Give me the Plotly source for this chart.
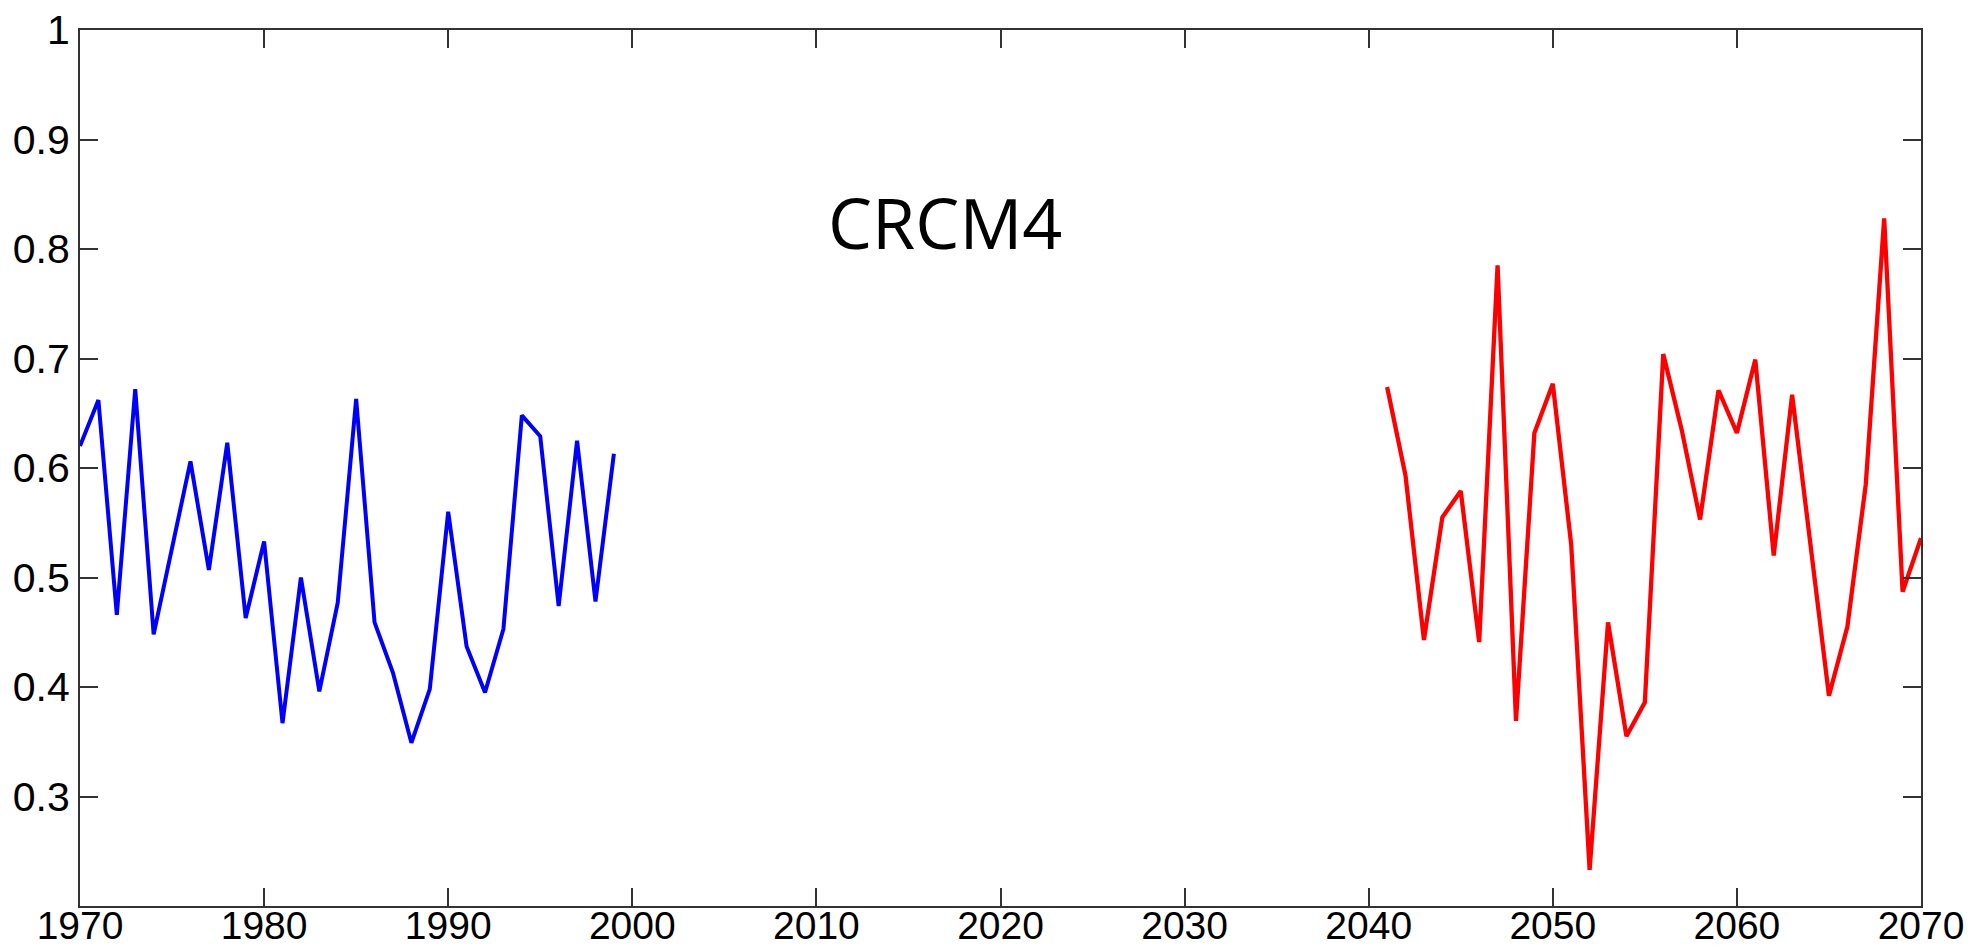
import plotly.graph_objects as go

years_hist = list(range(1970, 2000))
values_hist = [0.620, 0.662, 0.466, 0.672, 0.448, 0.525, 0.606, 0.507, 0.623, 0.463,
               0.533, 0.367, 0.500, 0.396, 0.477, 0.663, 0.459, 0.413, 0.349, 0.398,
               0.560, 0.437, 0.395, 0.453, 0.648, 0.629, 0.474, 0.625, 0.478, 0.613]

years_fut = list(range(2041, 2071))
values_fut = [0.674, 0.593, 0.443, 0.555, 0.579, 0.441, 0.785, 0.369, 0.632, 0.677,
              0.530, 0.233, 0.459, 0.355, 0.386, 0.704, 0.635, 0.553, 0.671, 0.632,
              0.699, 0.520, 0.667, 0.529, 0.392, 0.455, 0.585, 0.828, 0.487, 0.536]

x_ticks = list(range(1970, 2071, 10))
y_ticks = [0.3, 0.4, 0.5, 0.6, 0.7, 0.8, 0.9, 1.0]
y_labels = ["0.3", "0.4", "0.5", "0.6", "0.7", "0.8", "0.9", "1"]
title_text = "CRCM4"

fig = go.Figure()
fig.add_trace(go.Scatter(x=years_hist, y=values_hist, mode="lines",
                         line=dict(color="#0000ff", width=4), showlegend=False))
fig.add_trace(go.Scatter(x=years_fut, y=values_fut, mode="lines",
                         line=dict(color="#ff0000", width=4.3), showlegend=False))

fig.add_annotation(x=2017.0, y=0.825, text=title_text, showarrow=False,
                   font=dict(family="Open Sans", size=70, color="black"),
                   xanchor="center", yanchor="middle")

axis_common = dict(showline=True, linecolor="#333333", linewidth=2, mirror="ticks",
                   ticks="inside", ticklen=18, tickwidth=2, tickcolor="#333333",
                   showgrid=False, zeroline=False, ticklabeloverflow="allow")

fig.update_xaxes(range=[1970, 2070], tickvals=x_ticks, ticklabelstandoff=-16,
                 tickfont=dict(family="Liberation Sans", size=39, color="black"),
                 **axis_common)
fig.update_yaxes(range=[0.2, 1.0], tickvals=y_ticks, ticktext=y_labels,
                 tickfont=dict(family="Liberation Sans", size=41, color="black"),
                 **axis_common)

fig.update_layout(width=1975, height=949, plot_bgcolor="white", paper_bgcolor="white",
                  margin=dict(l=72, r=62, t=22, b=51, autoexpand=False))

fig.write_html("out.html")
